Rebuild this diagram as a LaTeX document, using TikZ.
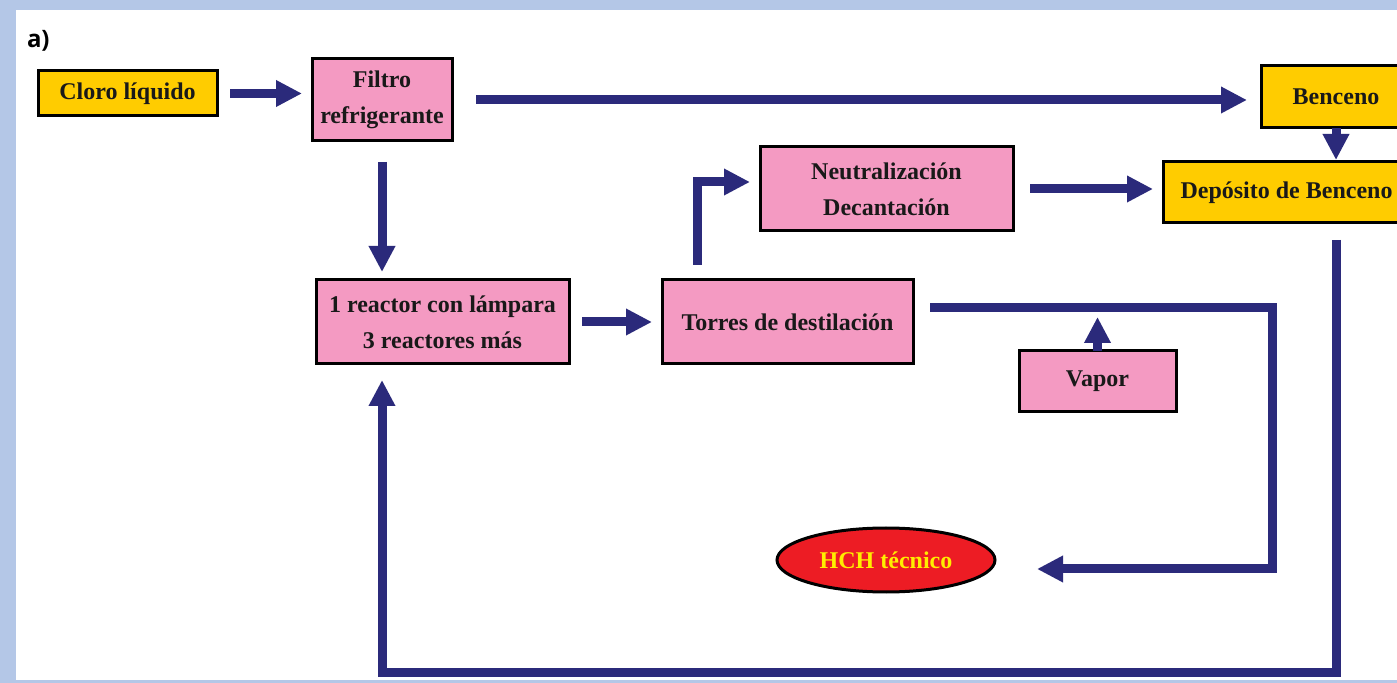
\documentclass[tikz,border=0pt]{standalone}
\usepackage{fontspec}
\setmainfont{Liberation Serif}
\newfontfamily\etiqfont{Open Sans}
\usetikzlibrary{positioning, arrows.meta, shapes.geometric}

\definecolor{fondo}{HTML}{B4C7E7}
\definecolor{amarillo}{HTML}{FFCC00}
\definecolor{rosa}{HTML}{F49AC2}
\definecolor{azul}{HTML}{2B2A7B}
\definecolor{rojo}{HTML}{ED1C24}
\definecolor{amarilloTxt}{HTML}{FFEE00}

\begin{document}
\begin{tikzpicture}[x=0.5pt,y=-0.5pt,
    every node/.style={inner sep=0pt,outer sep=0pt},
    font=\fontsize{12}{18}\selectfont\bfseries,
    caja/.style={draw=black,line width=1.5pt,align=center,text=black!90},
    flujo/.style={draw=azul,line width=4.5pt,-{Triangle[length=13pt,width=12.5pt]}}]
        % marco y fondo
        \useasboundingbox (0,0) rectangle (1397,683);
        \clip (0,0) rectangle (1397,683);
        \fill[fondo] (0,0) rectangle (1397,683);
        \fill[white] (16,10) rectangle (1397,680);
        \node[font=\etiqfont\bfseries\fontsize{12}{12}\selectfont,anchor=west] (etiq) at (27,41) {a)};

        % cajas
        \node[caja,fill=amarillo,minimum width=89.5pt,minimum height=22.5pt] (cloro) at (127.5,93.5) {Cloro líquido};
        \node[caja,fill=rosa,minimum width=70pt,minimum height=41pt] (filtro) at (382,100) {Filtro\\refrigerante};
        \node[caja,fill=amarillo,minimum width=75pt,minimum height=31pt] (benceno) at (1336,97) {Benceno};
        \node[caja,fill=amarillo,minimum width=123.5pt,minimum height=30.5pt] (deposito) at (1286.5,192.5) {Depósito de Benceno};
        \node[caja,fill=rosa,minimum width=126.5pt,minimum height=42pt] (neutral) at (886.5,189) {Neutralización\\Decantación};
        \node[caja,fill=rosa,minimum width=126.5pt,minimum height=42pt] (reactor) at (442.5,322) {1 reactor con lámpara\\3 reactores más};
        \node[caja,fill=rosa,minimum width=125.5pt,minimum height=42pt] (torres) at (787.5,322) {Torres de destilación};
        \node[caja,fill=rosa,minimum width=78.5pt,minimum height=30.5pt] (vapor) at (1097.5,381.5) {Vapor};
        \node[ellipse,draw=black,line width=1.5pt,fill=rojo,text=amarilloTxt,minimum width=109pt,minimum height=32pt] (hch) at (886,560) {HCH técnico};

        % puntos de giro
        \coordinate (tr) at (1272,308);
        \coordinate (br) at (1272,569);
        \coordinate (bl) at (382,672);

        % flechas
        \draw[flujo,shorten <=6.5pt,shorten >=5pt] (cloro.east) -- (cloro.east -| filtro.west);
        \draw[flujo,shorten <=12pt,shorten >=7pt] (filtro.east) -- (filtro.east -| benceno.west);
        \draw[flujo,shorten >=1pt] (benceno.south) -- (benceno.south |- deposito.north);
        \draw[flujo,shorten <=10.5pt,shorten >=4pt] (filtro.south) -- (filtro.south |- reactor.north);
        \draw[flujo,shorten <=6.5pt,shorten >=5pt] (reactor.east) -- (torres.west);
        \draw[flujo,shorten <=7.5pt,shorten >=5pt] ([xshift=-45pt]torres.north) |- ([yshift=3.5pt]neutral.west);
        \draw[flujo,shorten <=8.5pt,shorten >=5pt] (neutral.east) -- (neutral.east -| deposito.west);
        \draw[flujo,shorten <=8.5pt,shorten >=21pt] (torres.east |- tr) -- (tr) -- (br) -- (hch.east |- br);
        \draw[flujo,shorten >=4.5pt] (vapor.north) -- (vapor.north |- tr);
        \draw[flujo,shorten <=8.5pt,shorten >=8pt] (benceno.south |- deposito.south) -- (benceno.south |- bl) -- (bl) -- (reactor.south -| bl);
\end{tikzpicture}
\end{document}
